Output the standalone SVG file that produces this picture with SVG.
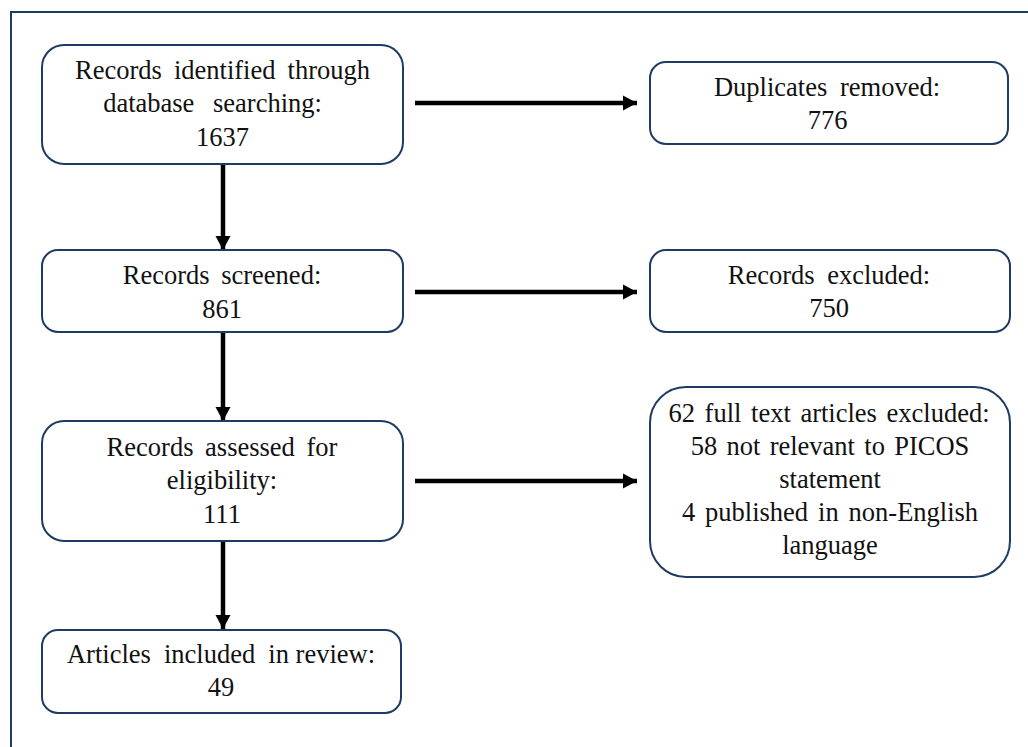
<svg xmlns="http://www.w3.org/2000/svg" width="1028" height="747" viewBox="0 0 1028 747">
<style>
.box{fill:#fff;stroke:#1f3b63;stroke-width:2}
.t{font-family:'Liberation Serif','Times New Roman',Tinos,'DejaVu Serif',serif;font-size:26.5px;fill:#111;text-anchor:middle}
.c{stroke:#000;stroke-width:4.5;fill:none}
</style>
<defs>
<marker id="ah" markerUnits="userSpaceOnUse" markerWidth="16" markerHeight="16" refX="14" refY="8" orient="auto">
<path d="M0,0.5 L14,8 L0,15.5 Z" fill="#000"/>
</marker>
</defs>
<rect width="1028" height="747" fill="#fff"/>
<path d="M11,760 V12 H1040" fill="none" stroke="#1f3b63" stroke-width="2"/>
<g id="connectors">
<line class="c" x1="223" y1="164" x2="223" y2="250" marker-end="url(#ah)"/>
<line class="c" x1="223" y1="333" x2="223" y2="421" marker-end="url(#ah)"/>
<line class="c" x1="223" y1="541" x2="223" y2="629" marker-end="url(#ah)"/>
<line class="c" x1="415" y1="103" x2="637" y2="103" marker-end="url(#ah)"/>
<line class="c" x1="415" y1="292" x2="637" y2="292" marker-end="url(#ah)"/>
<line class="c" x1="415" y1="481" x2="637" y2="481" marker-end="url(#ah)"/>
</g>
<g id="identified">
<rect class="box" x="42" y="45" width="361" height="119" rx="22"/>
<text class="t" x="222.5" y="79" word-spacing="5.5">Records identified through</text>
<text class="t" x="212.5" y="112" word-spacing="12">database searching:</text>
<text class="t" x="222.5" y="146">1637</text>
</g>
<g id="duplicates">
<rect class="box" x="650" y="62" width="358" height="82" rx="16"/>
<text class="t" x="827" y="96" word-spacing="6">Duplicates removed:</text>
<text class="t" x="827.5" y="129">776</text>
</g>
<g id="screened">
<rect class="box" x="42" y="250" width="361" height="82" rx="16"/>
<text class="t" x="222" y="284" word-spacing="5">Records screened:</text>
<text class="t" x="222" y="317.5">861</text>
</g>
<g id="excluded">
<rect class="box" x="650" y="250" width="360" height="82" rx="16"/>
<text class="t" x="829" y="284" word-spacing="6">Records excluded:</text>
<text class="t" x="829" y="317">750</text>
</g>
<g id="assessed">
<rect class="box" x="42" y="421" width="361" height="120" rx="22"/>
<text class="t" x="222" y="456" word-spacing="5">Records assessed for</text>
<text class="t" x="222" y="489">eligibility:</text>
<text class="t" x="222" y="522.5">111</text>
</g>
<g id="fulltext">
<rect class="box" x="650" y="387" width="360" height="190" rx="36"/>
<text class="t" x="829" y="422" word-spacing="3">62 full text articles excluded:</text>
<text class="t" x="830" y="455" word-spacing="2.7">58 not relevant to PICOS</text>
<text class="t" x="830" y="488">statement</text>
<text class="t" x="830" y="521" word-spacing="3.3">4 published in non-English</text>
<text class="t" x="830" y="554">language</text>
</g>
<g id="included">
<rect class="box" x="42" y="630" width="359" height="83" rx="16"/>
<text class="t" x="221" y="663"><tspan>Articles</tspan><tspan dx="6.5"> included</tspan><tspan dx="6.5"> in review:</tspan></text>
<text class="t" x="221" y="696">49</text>
</g>
</svg>
